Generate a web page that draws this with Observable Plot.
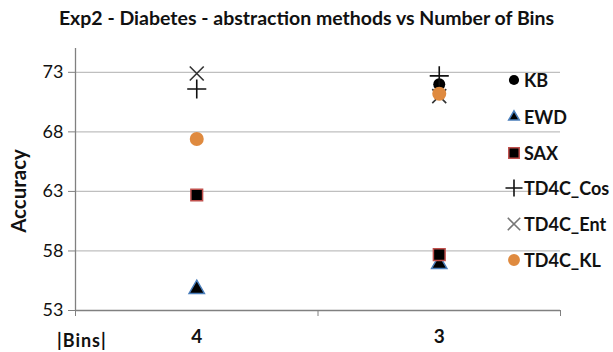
<!DOCTYPE html>
<html>
<head>
<meta charset="utf-8">
<script src="https://cdn.jsdelivr.net/npm/d3@7"></script>
<script src="https://cdn.jsdelivr.net/npm/@observablehq/plot@0.6"></script>
<style>
  html, body { margin: 0; padding: 0; background: #fff; }
  #wrap { position: relative; width: 613px; height: 352px; font-family: Lato, "Open Sans", sans-serif; color: #111; }
  #title { position: absolute; left: 0; top: 5px; width: 613px; text-align: center; font-weight: bold; font-size: 19.5px; line-height: 26px; }
  #chart { position: absolute; left: 0; top: 40px; }
  #ylabel { position: absolute; left: 18px; top: 191px; transform: translate(-50%, -50%) rotate(-90deg); font-weight: bold; font-size: 20.5px; white-space: nowrap; }
  #xlabel { position: absolute; left: 57px; top: 329px; font-weight: bold; font-size: 18px; line-height: 22px; letter-spacing: 1px; white-space: pre; }
  #legend { position: absolute; left: 0; top: 0; }
  .item { position: absolute; display: flex; align-items: center; font-weight: bold; font-size: 18px; line-height: 22px; white-space: nowrap; }
  .item svg { display: block; }
</style>
</head>
<body>
<div id="wrap">
  <div id="title">Exp2 - Diabetes - abstraction methods vs Number of Bins</div>
  <div id="chart"></div>
  <div id="ylabel">Accuracy</div>
  <div id="xlabel">|Bins|</div>
  <div id="legend"></div>
</div>
<script>
// ---- data ----
const bins = ["4", "3"];
const series = ["KB", "EWD", "SAX", "TD4C_Cos", "TD4C_Ent", "TD4C_KL"];
const KB       = [null, 72.0];
const EWD      = [54.8, 56.9];
const SAX      = [62.7, 57.7];
const TD4C_Cos = [71.6, 72.7];
const TD4C_Ent = [72.9, 71.0];
const TD4C_KL  = [67.4, 71.2];
const yTicks = [53, 58, 63, 68, 73];

const values = { KB, EWD, SAX, TD4C_Cos, TD4C_Ent, TD4C_KL };
const styles = {
  KB:       { symbol: "circle",   r: 6,   fill: "#000", stroke: "none", strokeWidth: 0 },
  EWD:      { symbol: "triangle", r: 5.7, fill: "#000", stroke: "#4a7ebb", strokeWidth: 1.5 },
  SAX:      { symbol: "square",   r: 6.6, fill: "#000", stroke: "#c0504d", strokeWidth: 1.5 },
  TD4C_Cos: { symbol: "plus",     r: 6.2, fill: "none", stroke: "#111", strokeWidth: 1.6 },
  TD4C_Ent: { symbol: "times",    r: 6.4, fill: "none", stroke: "#333", strokeWidth: 1.6 },
  TD4C_KL:  { symbol: "circle",   r: 7,   fill: "#df8a3f", stroke: "none", strokeWidth: 0 }
};
const legendStyles = { ...styles, TD4C_Ent: { ...styles.TD4C_Ent, stroke: "#777" } };

const rows = [];
series.forEach(s => values[s].forEach((v, i) => {
  if (v != null) rows.push({ series: s, pos: i + 0.5, bin: bins[i], value: v });
}));

const font = "Lato, 'Open Sans', sans-serif";

const dotMarks = series.map(s => {
  const st = styles[s];
  return Plot.dot(rows.filter(d => d.series === s), {
    x: "pos", y: "value", symbol: st.symbol, r: st.r,
    fill: st.fill, stroke: st.stroke, strokeWidth: st.strokeWidth
  });
});

const chart = Plot.plot({
  width: 613,
  height: 312,
  marginLeft: 75,
  marginRight: 53,
  marginTop: 8,
  marginBottom: 42,
  style: { fontFamily: font, background: "white", overflow: "visible" },
  x: { type: "linear", domain: [0, bins.length], axis: null },
  y: { domain: [53, 75], axis: null },
  marks: [
    Plot.ruleY(yTicks.slice(1), { stroke: "#bfbfbf", strokeWidth: 1.3 }),
    Plot.axisY(yTicks, { tickSize: 7, tickPadding: 5, fontSize: 18, stroke: "#808080", fill: "#111", label: null }),
    Plot.ruleX([0], { stroke: "#808080", strokeWidth: 1.3 }),
    Plot.axisX(d3.range(bins.length + 1), { tickSize: 6, tickFormat: () => "", stroke: "#808080", label: null }),
    Plot.ruleY([53], { stroke: "#808080", strokeWidth: 1.6 }),
    Plot.axisX(bins.map((b, i) => i + 0.5), { tickSize: 0, tickPadding: 19, tickFormat: d => bins[Math.floor(d)], fontSize: 19, fontWeight: "bold", fill: "#111", label: null }),
    ...dotMarks
  ]
});
document.getElementById("chart").appendChild(chart);

// ---- legend ----
const legendY = [80, 117, 153, 188, 224, 260];
const leg = document.getElementById("legend");
series.forEach((s, i) => {
  const st = legendStyles[s];
  const div = document.createElement("div");
  div.className = "item";
  div.style.left = "505px";
  div.style.top = (legendY[i] - 11) + "px";
  const sym = {
    circle: d3.symbolCircle, triangle: d3.symbolTriangle2, square: d3.symbolSquare,
    plus: d3.symbolPlus, times: d3.symbolTimes
  }[st.symbol];
  const size = Math.PI * st.r * st.r * (s === "KB" || s === "TD4C_KL" ? 0.72 : 0.8);
  const svg = d3.create("svg").attr("width", 18).attr("height", 22);
  svg.append("path")
    .attr("transform", "translate(9,11)")
    .attr("d", d3.symbol(sym, size)())
    .attr("fill", st.fill)
    .attr("stroke", st.stroke)
    .attr("stroke-width", st.strokeWidth);
  div.appendChild(svg.node());
  const span = document.createElement("span");
  span.textContent = s;
  span.style.marginLeft = "1px";
  div.appendChild(span);
  leg.appendChild(div);
});
</script>
</body>
</html>
